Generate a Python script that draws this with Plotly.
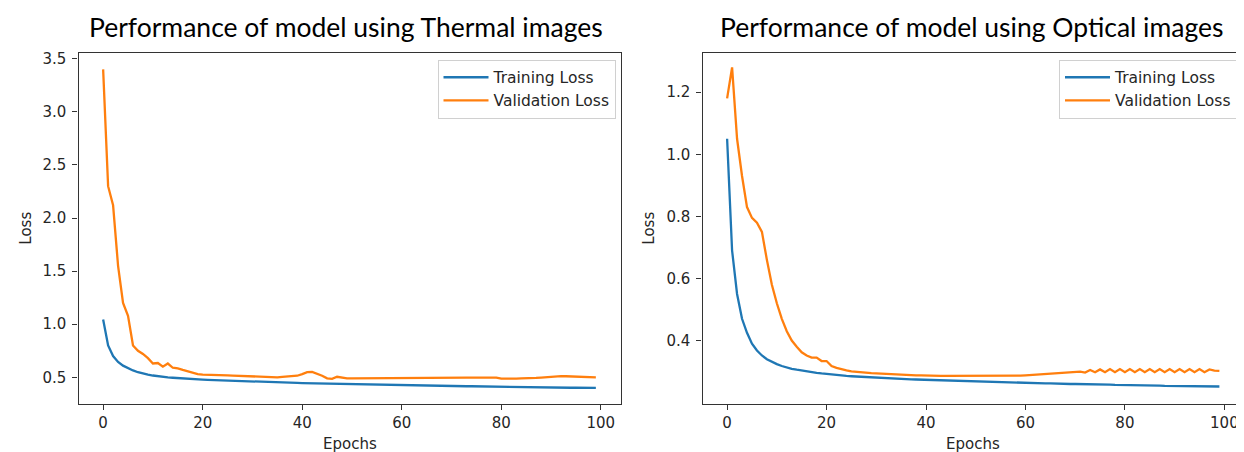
import plotly.graph_objects as go

W, H = 1244, 452

epochs = list(range(100))

thermal_train = [1.045, 0.80, 0.70, 0.645, 0.61, 0.585, 0.565, 0.548, 0.535, 0.525,
                 0.517, 0.51, 0.505, 0.50, 0.496, 0.492, 0.488, 0.485, 0.482, 0.48,
                 0.478, 0.476, 0.474, 0.472, 0.470, 0.468, 0.466, 0.464, 0.462, 0.460,
                 0.458, 0.457, 0.455, 0.453, 0.452, 0.451, 0.450, 0.449, 0.448, 0.447,
                 0.446, 0.445, 0.444, 0.443, 0.442, 0.441, 0.440, 0.439, 0.438, 0.436,
                 0.435, 0.433, 0.432, 0.430, 0.429, 0.428, 0.428, 0.427, 0.426, 0.426,
                 0.425, 0.424, 0.424, 0.423, 0.422, 0.422, 0.421, 0.420, 0.420, 0.419,
                 0.418, 0.418, 0.417, 0.416, 0.416, 0.415, 0.414, 0.414, 0.413, 0.412,
                 0.412, 0.411, 0.410, 0.410, 0.409, 0.408, 0.408, 0.407, 0.406, 0.406,
                 0.405, 0.404, 0.404, 0.403, 0.402, 0.402, 0.401, 0.401, 0.400, 0.400]

thermal_val = [3.40, 2.30, 2.12, 1.55, 1.20, 1.08, 0.80, 0.75, 0.72, 0.68,
               0.63, 0.635, 0.60, 0.63, 0.59, 0.585, 0.57, 0.555, 0.54, 0.53,
               0.525, 0.525, 0.523, 0.522, 0.52, 0.518, 0.516, 0.514, 0.512, 0.51,
               0.508, 0.506, 0.504, 0.502, 0.50, 0.50, 0.505, 0.508, 0.51, 0.515,
               0.53, 0.548, 0.552, 0.535, 0.515, 0.49, 0.485, 0.505, 0.495, 0.49,
               0.49, 0.49, 0.491, 0.491, 0.492, 0.492, 0.492, 0.493, 0.493, 0.493,
               0.494, 0.494, 0.494, 0.494, 0.495, 0.495, 0.495, 0.495, 0.496, 0.496,
               0.496, 0.497, 0.497, 0.497, 0.498, 0.498, 0.498, 0.499, 0.499, 0.498,
               0.487, 0.485, 0.486, 0.488, 0.49, 0.49, 0.492, 0.495, 0.498, 0.502,
               0.506, 0.51, 0.512, 0.51, 0.508, 0.506, 0.504, 0.502, 0.50, 0.50]

optical_train = [1.05, 0.69, 0.55, 0.47, 0.425, 0.39, 0.368, 0.352, 0.34, 0.331,
                 0.324, 0.318, 0.313, 0.309, 0.306, 0.303, 0.300, 0.298, 0.296, 0.294,
                 0.292, 0.291, 0.289, 0.288, 0.286, 0.285, 0.284, 0.283, 0.282, 0.281,
                 0.280, 0.279, 0.278, 0.2775, 0.277, 0.276, 0.2755, 0.275, 0.2745, 0.274,
                 0.2735, 0.273, 0.2725, 0.272, 0.2715, 0.271, 0.2705, 0.270, 0.269, 0.268,
                 0.267, 0.2665, 0.266, 0.266, 0.265, 0.265, 0.265, 0.264, 0.264, 0.264,
                 0.263, 0.263, 0.263, 0.262, 0.262, 0.262, 0.261, 0.261, 0.261, 0.260,
                 0.260, 0.260, 0.259, 0.259, 0.259, 0.258, 0.258, 0.258, 0.257, 0.257,
                 0.257, 0.256, 0.256, 0.256, 0.255, 0.255, 0.255, 0.255, 0.254, 0.254,
                 0.254, 0.254, 0.253, 0.253, 0.253, 0.253, 0.252, 0.252, 0.252, 0.252]

optical_val = [1.18, 1.28, 1.05, 0.93, 0.83, 0.795, 0.78, 0.75, 0.66, 0.58,
               0.52, 0.47, 0.43, 0.40, 0.38, 0.362, 0.352, 0.345, 0.345, 0.334,
               0.334, 0.318, 0.312, 0.307, 0.304, 0.301, 0.299, 0.297, 0.296, 0.295,
               0.294, 0.293, 0.292, 0.291, 0.290, 0.289, 0.289, 0.288, 0.288, 0.288,
               0.287, 0.287, 0.287, 0.286, 0.286, 0.286, 0.286, 0.285, 0.285, 0.285,
               0.285, 0.285, 0.285, 0.285, 0.285, 0.285, 0.285, 0.286, 0.286, 0.287,
               0.288, 0.289, 0.290, 0.291, 0.292, 0.294, 0.295, 0.296, 0.297, 0.298,
               0.299, 0.300, 0.297, 0.305, 0.298, 0.307, 0.298, 0.308, 0.298, 0.308,
               0.298, 0.308, 0.298, 0.308, 0.298, 0.308, 0.298, 0.308, 0.298, 0.308,
               0.298, 0.308, 0.298, 0.308, 0.298, 0.308, 0.298, 0.307, 0.303, 0.302]

titles = ["Performance of model using Thermal images",
          "Performance of model using Optical images"]
series_names = ["Training Loss", "Validation Loss"]
x_ticks = [0, 20, 40, 60, 80, 100]
y_ticks_thermal = [0.5, 1.0, 1.5, 2.0, 2.5, 3.0, 3.5]
y_ticks_optical = [0.4, 0.6, 0.8, 1.0, 1.2]

BLUE = "#1f77b4"
ORANGE = "#ff7f0e"
FONT = "DejaVu Sans"
TXT = "#262626"

# pixel geometry of the two axes boxes
L1, R1 = 70.5, 612.5
L2, R2 = 694.5, 1236.0
TOP, BOT = 42.7, 395.5

def px(x):
    return x / W

def py(y):
    return 1 - y / H

fig = go.Figure()
fig.add_trace(go.Scatter(x=epochs, y=thermal_train, mode="lines", name=series_names[0],
                         line=dict(color=BLUE, width=2.3), xaxis="x", yaxis="y", legend="legend"))
fig.add_trace(go.Scatter(x=epochs, y=thermal_val, mode="lines", name=series_names[1],
                         line=dict(color=ORANGE, width=2.3), xaxis="x", yaxis="y", legend="legend"))
fig.add_trace(go.Scatter(x=epochs, y=optical_train, mode="lines", name=series_names[0],
                         line=dict(color=BLUE, width=2.3), xaxis="x2", yaxis="y2", legend="legend2"))
fig.add_trace(go.Scatter(x=epochs, y=optical_val, mode="lines", name=series_names[1],
                         line=dict(color=ORANGE, width=2.3), xaxis="x2", yaxis="y2", legend="legend2"))

axis_common = dict(showgrid=False, zeroline=False, showline=True, mirror=True,
                   linecolor="#333333", linewidth=1.2, ticks="outside", ticklen=5,
                   tickwidth=1.2, tickcolor="#333333",
                   tickfont=dict(family=FONT, size=15, color=TXT))

legend_common = dict(bgcolor="rgba(255,255,255,0.9)", bordercolor="#d0d0d0", borderwidth=1,
                     font=dict(family=FONT, size=15.5, color=TXT), itemwidth=45,
                     xanchor="right", yanchor="top", tracegroupgap=0)

fig.update_layout(
    width=W, height=H,
    margin=dict(l=0, r=0, t=0, b=0),
    paper_bgcolor="white", plot_bgcolor="white",
    xaxis=dict(domain=[px(L1), px(R1)], range=[-4.95, 103.95], tickvals=x_ticks,
               anchor="y", **axis_common),
    yaxis=dict(domain=[py(BOT), py(TOP)], range=[0.25, 3.55], tickvals=y_ticks_thermal,
               ticktext=[f"{v:.1f}" for v in y_ticks_thermal], anchor="x",
               ticklabelstandoff=3, **axis_common),
    xaxis2=dict(domain=[px(L2), px(R2)], range=[-4.95, 103.95], tickvals=x_ticks,
                anchor="y2", **axis_common),
    yaxis2=dict(domain=[py(BOT), py(TOP)], range=[0.196, 1.325], tickvals=y_ticks_optical,
                ticktext=[f"{v:.1f}" for v in y_ticks_optical], anchor="x2",
                ticklabelstandoff=3, **axis_common),
    legend=dict(x=px(607.5), y=py(49), **legend_common),
    legend2=dict(x=px(1229), y=py(49), **legend_common),
    showlegend=True,
)

annotations = []
for t, cx in zip(titles, [(L1 + R1) / 2 - 4, (L2 + R2) / 2 - 2]):
    annotations.append(dict(text=t, x=px(cx), y=py(16), xref="paper", yref="paper",
                            xanchor="center", yanchor="middle", showarrow=False,
                            font=dict(family="Lato", size=26.5, color="#000000")))
for cx in [(L1 + R1) / 2, (L2 + R2) / 2]:
    annotations.append(dict(text="Epochs", x=px(cx), y=py(436), xref="paper", yref="paper",
                            xanchor="center", yanchor="middle", showarrow=False,
                            font=dict(family=FONT, size=15, color=TXT)))
for lx in [18, 641]:
    annotations.append(dict(text="Loss", x=px(lx), y=py((TOP + BOT) / 2), xref="paper",
                            yref="paper", xanchor="center", yanchor="middle", showarrow=False,
                            textangle=-90, font=dict(family=FONT, size=15, color=TXT)))
fig.update_layout(annotations=annotations)

fig.write_html("out.html")
